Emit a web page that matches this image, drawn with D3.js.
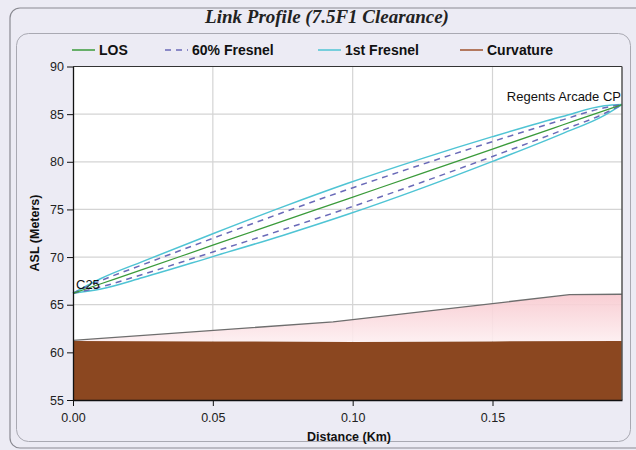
<!DOCTYPE html>
<html><head><meta charset="utf-8">
<script src="https://cdn.jsdelivr.net/npm/d3@7"></script>
<style>body{margin:0;background:#ecebf4;}svg{display:block;}</style>
</head><body>
<svg id="c" width="636" height="450"></svg>
<script>
// ---- data ----
const title = "Link Profile (7.5F1 Clearance)";
const xTicks = [0, 0.05, 0.10, 0.15];
const yTicks = [55, 60, 65, 70, 75, 80, 85, 90];
const xMax = 0.1963;
const dist      = [0, 0.01, 0.025, 0.05, 0.075, 0.098, 0.125, 0.15, 0.175, 0.19, 0.1963];
const los       = [66.2, 67.2, 68.7, 71.25, 73.77, 76.09, 78.81, 81.34, 83.86, 85.37, 86.0];
const fres1Up   = [66.2, 67.75, 69.55, 72.45, 75.27, 77.72, 80.36, 82.64, 84.76, 85.87, 86.0];
const fres1Lo   = [66.2, 66.65, 67.85, 70.05, 72.27, 74.46, 77.26, 80.04, 82.96, 84.87, 86.0];
const fres60Up  = [66.2, 67.53, 69.21, 71.97, 74.67, 77.07, 79.74, 82.12, 84.4, 85.67, 86.0];
const fres60Lo  = [66.2, 66.87, 68.19, 70.53, 72.87, 75.11, 77.88, 80.56, 83.32, 85.07, 86.0];
const curvDist  = [0, 0.093, 0.1775, 0.1963];
const curvature = [61.25, 63.2, 66.05, 66.1];
const terrDist  = [0, 0.05, 0.10, 0.15, 0.1963];
const terrain   = [61.2, 61.15, 61.1, 61.15, 61.2];
const siteA = "C25", siteB = "Regents Arcade CP";
const legendItems = ["LOS", "60% Fresnel", "1st Fresnel", "Curvature"];

// ---- layout ----
const svg = d3.select("#c");
const L = 73, R = 622, T = 66.5, B = 400;
const x = d3.scaleLinear().domain([0, xMax]).range([L, R]);
const y = d3.scaleLinear().domain([55, 90]).range([B, T]);

// panels
svg.append("rect").attr("x", 10).attr("y", 8).attr("width", 640).attr("height", 440).attr("rx", 10)
  .attr("fill", "#ecebf4").attr("stroke", "#8a8a92").attr("stroke-width", 1.2);
svg.append("rect").attr("x", 16.5).attr("y", 33.5).attr("width", 614).attr("height", 408).attr("rx", 12)
  .attr("fill", "#ecebf4").attr("stroke", "#a9a9b2").attr("stroke-width", 1);

svg.append("text").attr("x", 327).attr("y", 23).attr("text-anchor", "middle")
  .attr("font-family", "Liberation Serif, Times New Roman, serif").attr("font-style", "italic")
  .attr("font-weight", "bold").attr("font-size", 19).attr("fill", "#222").text(title);

// plot bg
svg.append("rect").attr("x", L).attr("y", T).attr("width", R - L).attr("height", B - T).attr("fill", "#fff");

// grid
const g = svg.append("g");
g.selectAll(".gx").data(xTicks.slice(1)).join("line").attr("x1", d => x(d)).attr("x2", d => x(d))
  .attr("y1", T).attr("y2", B).attr("stroke", "#d4d4d4").attr("stroke-width", 1.2);
g.selectAll(".gy").data(yTicks.slice(1, -1)).join("line").attr("y1", d => y(d)).attr("y2", d => y(d))
  .attr("x1", L).attr("x2", R).attr("stroke", "#d4d4d4").attr("stroke-width", 1.2);

// gradient for curvature area
const defs = svg.append("defs");
const grad = defs.append("linearGradient").attr("id", "pk").attr("x1", 0).attr("y1", 0).attr("x2", 0).attr("y2", 1);
grad.append("stop").attr("offset", "0%").attr("stop-color", "#f8c9cf");
grad.append("stop").attr("offset", "100%").attr("stop-color", "#fdeef0");

const curvPts = curvDist.map((d, i) => [d, curvature[i]]);
const terrPts = terrDist.map((d, i) => [d, terrain[i]]);
const terrAt = d3.scaleLinear().domain(terrDist).range(terrain);
svg.append("path").datum(curvPts)
  .attr("d", d3.area().x(d => x(d[0])).y0(d => y(terrAt(d[0]))).y1(d => y(d[1])))
  .attr("fill", "url(#pk)").attr("fill-opacity", 0.9);
svg.append("path").datum(terrPts)
  .attr("d", d3.area().x(d => x(d[0])).y0(y(55)).y1(d => y(d[1])))
  .attr("fill", "#8b4720");
svg.append("path").datum(curvPts)
  .attr("d", d3.line().x(d => x(d[0])).y(d => y(d[1])))
  .attr("fill", "none").attr("stroke", "#6e6e6e").attr("stroke-width", 1.3);

// fresnel & LOS
const line = d3.line().x(d => x(d[0])).y(d => y(d[1])).curve(d3.curveMonotoneX);
const ser = arr => dist.map((d, i) => [d, arr[i]]);
[fres1Up, fres1Lo].forEach(a => svg.append("path").datum(ser(a)).attr("d", line)
  .attr("fill", "none").attr("stroke", "#4fc4d4").attr("stroke-width", 1.5));
[fres60Up, fres60Lo].forEach(a => svg.append("path").datum(ser(a)).attr("d", line)
  .attr("fill", "none").attr("stroke", "#6a6ab8").attr("stroke-width", 1.5).attr("stroke-dasharray", "6,5"));
svg.append("path").datum(ser(los)).attr("d", line)
  .attr("fill", "none").attr("stroke", "#3b9b3b").attr("stroke-width", 1.3);

// frame
svg.append("line").attr("x1", L).attr("x2", R).attr("y1", T).attr("y2", T).attr("stroke", "#333");
svg.append("line").attr("x1", R).attr("x2", R).attr("y1", T).attr("y2", B).attr("stroke", "#555").attr("stroke-width", 1.5);

// axes
const xAxis = svg.append("g").attr("transform", `translate(0,${B})`)
  .call(d3.axisBottom(x).tickValues(xTicks).tickFormat(d3.format(".2f")).tickSize(6).tickSizeOuter(0));
const yAxis = svg.append("g").attr("transform", `translate(${L},0)`)
  .call(d3.axisLeft(y).tickValues(yTicks).tickSize(6).tickSizeOuter(0));
[xAxis, yAxis].forEach(a => {
  a.selectAll("text").attr("font-family", "Liberation Sans, Arial, sans-serif").attr("font-size", 12.5).attr("fill", "#222");
  a.select(".domain").attr("stroke", "#111").attr("stroke-width", 1.3);
  a.selectAll(".tick line").attr("stroke", "#111");
});
xAxis.selectAll("text").attr("dy", "1.0em");

svg.append("text").attr("x", 349).attr("y", 441).attr("text-anchor", "middle")
  .attr("font-family", "Liberation Sans, Arial, sans-serif").attr("font-weight", "bold").attr("font-size", 12.5)
  .attr("fill", "#111").text("Distance (Km)");
svg.append("text").attr("transform", "translate(39,233) rotate(-90)").attr("text-anchor", "middle")
  .attr("font-family", "Liberation Sans, Arial, sans-serif").attr("font-weight", "bold").attr("font-size", 12.5)
  .attr("fill", "#111").text("ASL (Meters)");

// site labels
svg.append("text").attr("x", x(0) + 3).attr("y", y(los[0]) - 4)
  .attr("font-family", "Liberation Sans, Arial, sans-serif").attr("font-size", 13).attr("fill", "#111").text(siteA);
svg.append("text").attr("x", x(xMax) - 1).attr("y", y(los[los.length - 1]) - 4).attr("text-anchor", "end")
  .attr("font-family", "Liberation Sans, Arial, sans-serif").attr("font-size", 13).attr("fill", "#111").text(siteB);

// legend
const legX = [72, 165, 318, 460];
const legCol = ["#3b9b3b", "#6a6ab8", "#4fc4d4", "#a0522d"];
const lg = svg.append("g");
legendItems.forEach((t, i) => {
  lg.append("line").attr("x1", legX[i]).attr("x2", legX[i] + 23).attr("y1", 50).attr("y2", 50)
    .attr("stroke", legCol[i]).attr("stroke-width", 1.5).attr("stroke-dasharray", i === 1 ? "6,5" : null);
  lg.append("text").attr("x", legX[i] + 27).attr("y", 55)
    .attr("font-family", "Liberation Sans, Arial, sans-serif").attr("font-weight", "bold").attr("font-size", 14)
    .attr("fill", "#111").text(t);
});
</script>
</body></html>
